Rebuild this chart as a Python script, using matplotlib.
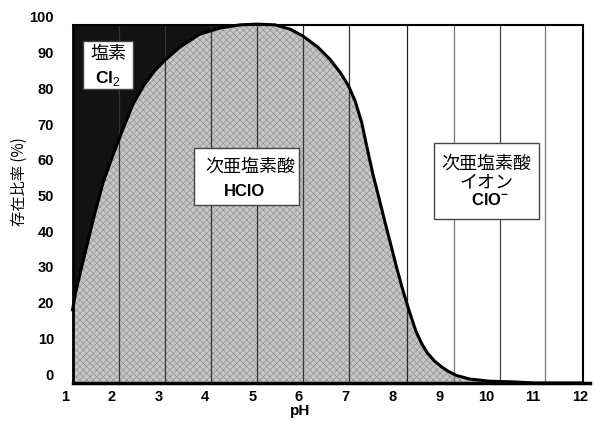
"""
Chlorine species distribution vs pH (塩素 / 次亜塩素酸 / 次亜塩素酸イオン).
"""

import matplotlib
matplotlib.use("Agg")
import matplotlib.pyplot as plt
from matplotlib.patches import Rectangle

plt.rcParams["mathtext.fontset"] = "custom"
plt.rcParams["mathtext.rm"] = "Liberation Sans"
plt.rcParams["mathtext.bf"] = "Liberation Sans:bold"
plt.rcParams["hatch.linewidth"] = 0.45

CJK = ["Noto Sans CJK JP", "DejaVu Sans"]
LATIN = "Liberation Sans"

# HClO share (%), on the tick-label scale
ph = [1.16, 1.23, 1.32, 1.45, 1.60, 1.81, 2.03, 2.22, 2.45, 2.69, 2.92,
      3.16, 3.46, 3.88, 4.31, 4.74, 5.10, 5.49, 5.81, 6.08, 6.40, 6.66, 6.89,
      7.06, 7.20, 7.34, 7.47, 7.58, 7.71, 7.83, 7.96, 8.09, 8.22, 8.35, 8.50,
      8.62, 8.75, 8.90, 9.05, 9.20, 9.37, 9.65, 10.08, 10.61, 11.04, 12.07]
hclo = [17.9, 23.0, 28.0, 35.0, 43.1, 53.5, 61.5, 68.0, 75.5, 81.0, 85.0,
        88.2, 91.6, 95.2, 96.9, 97.8, 98.0, 97.8, 96.6, 94.7, 91.6, 88.2, 84.3,
        80.7, 76.5, 70.5, 62.5, 56.0, 49.3, 43.0, 36.4, 29.7, 23.5, 17.9, 12.0,
        8.6, 5.8, 3.6, 2.0, 0.7, -0.4, -1.4, -2.0, -2.2, -2.5, -2.5]

x_ticks = list(range(1, 13))
y_ticks = list(range(0, 101, 10))

# frame of the plot area (drawn a bit off the tick labels, like the source)
x_left, x_right, x_axis_end = 1.164, 12.07, 12.22
y_bottom, y_top = -2.5, 97.7
peak_ph = 5.10

# vertical separators
grid_ph = [2.16, 3.14, 4.125, 5.107, 6.09, 7.072, 8.311, 9.308, 10.306, 11.267]
grid_col = ["#333333"] * 6 + ["#222222", "#777777", "#444444", "#777777"]

fig = plt.figure(figsize=(5.94, 4.21), dpi=100)
fig.patch.set_facecolor("white")
ax = fig.add_axes([65 / 594, 38 / 421, 525 / 594, 366 / 421])
ax.set_xlim(1, x_axis_end)
ax.set_ylim(y_bottom, 100)

# fills
ax.fill_between(ph, y_bottom, hclo, facecolor="#c6c6c6", edgecolor="#8e8e8e",
                hatch="xxxxx", linewidth=0, zorder=1)
ax.fill_between(ph, hclo, y_top, where=[p <= peak_ph for p in ph],
                interpolate=True, color="#121212", linewidth=0, zorder=1)

for gx, gc in zip(grid_ph, grid_col):
    ax.plot([gx, gx], [y_bottom, y_top], color=gc, linewidth=0.9, zorder=2)

ax.plot(ph, hclo, color="black", linewidth=2.2, zorder=3, clip_on=False,
        solid_capstyle="round", solid_joinstyle="round")

# frame
ax.plot([x_left, x_right], [y_top, y_top], color="black", linewidth=1.5, zorder=3)
ax.plot([x_left, x_left], [y_bottom, y_top], color="black", linewidth=2, zorder=3)
ax.plot([x_right, x_right], [y_bottom, y_top], color="black", linewidth=1.5, zorder=3)
ax.plot([x_left, x_axis_end], [y_bottom, y_bottom], color="black", linewidth=2.5,
        zorder=3, clip_on=False)

# label boxes
boxes = [(1.391, 79.7, 1.055, 13.6), (3.755, 47.3, 2.243, 15.9), (8.881, 43.3, 2.249, 21.3)]
for bx, by, bw, bh in boxes:
    ax.add_patch(Rectangle((bx, by), bw, bh, facecolor="white", edgecolor="#444444",
                           linewidth=1.0, zorder=4))

ax.text(1.918, 89.6, "塩素", family=CJK, fontsize=13, ha="center", va="center", zorder=5)
ax.text(1.918, 82.9, r"$\mathbf{Cl}_2$", fontsize=12.5, ha="center", va="center", zorder=5)
ax.text(4.951, 58.1, "次亜塩素酸", family=CJK, fontsize=13, ha="center", va="center", zorder=5)
ax.text(4.844, 51.1, "HClO", family=LATIN, fontweight="bold", fontsize=12,
        ha="center", va="center", zorder=5)
ax.text(10.013, 59.0, "次亜塩素酸", family=CJK, fontsize=13, ha="center", va="center", zorder=5)
ax.text(10.013, 53.6, "イオン", family=CJK, fontsize=13, ha="center", va="center", zorder=5)
ax.text(10.077, 48.7, r"$\mathbf{ClO}^{\mathbf{-}}$", fontsize=12, ha="center",
        va="center", zorder=5)

# axes
ax.set_xticks(x_ticks)
ax.set_yticks(y_ticks)
for lab in ax.get_xticklabels() + ax.get_yticklabels():
    lab.set_family(LATIN)
    lab.set_fontweight("bold")
    lab.set_fontsize(10.5)
ax.tick_params(axis="x", length=0, pad=5)
ax.tick_params(axis="y", length=0, pad=8)
for spine in ax.spines.values():
    spine.set_visible(False)

ax.set_xlabel("pH", family=LATIN, fontweight="bold", fontsize=11)
ax.xaxis.set_label_coords((300 - 65) / 525, (383 - 404) / 366)
ax.set_ylabel("存在比率 (%)", family=CJK, fontsize=11)
ax.yaxis.set_label_coords((19 - 65) / 525, (383 - 182) / 366)
ax.yaxis.label.set_verticalalignment("center")

fig.savefig("out.png", dpi=100, facecolor="white")
plt.close(fig)
